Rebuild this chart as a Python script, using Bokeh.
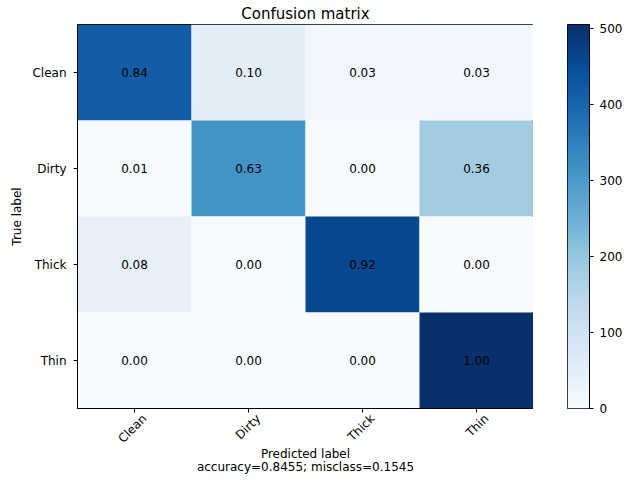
import math
import numpy as np
from bokeh.plotting import figure
from bokeh.layouts import row
from bokeh.models import (ColumnDataSource, LinearColorMapper, FixedTicker,
                          LinearAxis, Range1d)
from bokeh.palettes import Blues256
from bokeh.embed import file_html
from bokeh.resources import INLINE
from bokeh.core.properties import value

classes = ["Clean", "Dirty", "Thick", "Thin"]
counts = [
    [418, 50, 16, 16],
    [5, 313, 0, 182],
    [42, 0, 458, 0],
    [0, 0, 0, 505],
]
cbar_ticks = [0, 100, 200, 300, 400, 500]
cbar_high = 505
title_text = "Confusion matrix"
xlabel = "Predicted label"
ylabel = "True label"
stats_text = "accuracy=0.8455; misclass=0.1545"

FONT = "DejaVu Sans"
TOP = 24
BOTTOM = 70
FW, FH = 456, 384
ncls = len(classes)
centers = [k + 0.5 for k in range(ncls)]

xs, ys, cs, ts = [], [], [], []
for i in range(ncls):
    tot = sum(counts[i])
    for j in range(ncls):
        xs.append(centers[j])
        ys.append(centers[i])
        cs.append(counts[i][j])
        ts.append(f"{counts[i][j] / tot:.2f}")

src = ColumnDataSource(dict(x=xs, y=ys, c=cs, t=ts))
mapper = LinearColorMapper(palette=list(reversed(Blues256)), low=0, high=cbar_high)

p = figure(
    x_range=Range1d(0, ncls),
    y_range=Range1d(ncls, 0),
    frame_width=FW, frame_height=FH,
    min_border_left=77, min_border_right=0,
    min_border_top=TOP, min_border_bottom=BOTTOM,
    x_axis_location=None,
    output_backend="svg", toolbar_location=None,
    title=title_text,
)
p.title.align = "center"
p.title.text_font = FONT
p.title.text_font_size = "15px"
p.title.text_font_style = "normal"
p.title.text_color = "black"
p.title.standoff = 4

p.rect(x="x", y="y", width=1, height=1, source=src,
       fill_color={"field": "c", "transform": mapper}, line_color=None)
p.text(x="x", y="y", text="t", source=src, text_align="center",
       text_baseline="middle", text_font=value(FONT), text_font_size="12px",
       text_color="black")

p.grid.visible = False
p.outline_line_color = "black"
p.outline_line_width = 1


def style(ax):
    ax.axis_line_color = "black"
    ax.major_tick_line_color = "black"
    ax.major_tick_out = 4
    ax.major_tick_in = 0
    ax.minor_tick_line_color = None
    ax.major_label_text_font = FONT
    ax.major_label_text_font_size = "12px"
    ax.major_label_text_color = "black"
    ax.axis_label_text_font = FONT
    ax.axis_label_text_font_size = "12px"
    ax.axis_label_text_font_style = "normal"
    ax.axis_label_text_color = "black"


# y axis
yax = p.yaxis[0]
style(yax)
yax.ticker = FixedTicker(ticks=centers)
yax.major_label_overrides = {c: name for c, name in zip(centers, classes)}
yax.axis_label = ylabel
yax.major_label_standoff = 7
yax.axis_label_standoff = 5

# x axis: tick marks only
xa = LinearAxis(ticker=FixedTicker(ticks=centers))
style(xa)
xa.major_label_overrides = {c: " " for c in centers}
xa.major_label_text_font_size = "1px"
xa.major_label_standoff = 0
p.add_layout(xa, "below")

# x axis: rotated class names, centred under their ticks like matplotlib
shift = 10 * ncls / FW
lab_pos = [c + shift for c in centers]
xb = LinearAxis(ticker=FixedTicker(ticks=lab_pos))
style(xb)
xb.axis_line_color = None
xb.major_tick_out = 0
xb.major_tick_line_color = None
xb.major_label_overrides = {c: name for c, name in zip(lab_pos, classes)}
xb.major_label_orientation = math.pi / 4
xb.major_label_standoff = 0
xb.axis_label = xlabel + "\n" + stats_text
xb.axis_label_text_line_height = 0.9
xb.axis_label_standoff = -6
p.add_layout(xb, "below")

# colour bar as its own small figure
cbf = figure(
    x_range=Range1d(0, 1), y_range=Range1d(0, cbar_high),
    frame_width=22, frame_height=FH,
    min_border_left=34, min_border_right=0,
    min_border_top=TOP, min_border_bottom=BOTTOM,
    x_axis_location=None, y_axis_location="right",
    output_backend="svg", toolbar_location=None,
)
grad = np.linspace(0, cbar_high, 256).reshape(256, 1)
cbf.image(image=[grad], x=0, y=0, dw=1, dh=cbar_high, color_mapper=mapper)
cbf.grid.visible = False
cbf.outline_line_color = "black"
cax = cbf.yaxis[0]
cax.ticker = FixedTicker(ticks=cbar_ticks)
cax.axis_line_color = "black"
cax.major_tick_line_color = "black"
cax.major_tick_out = 4
cax.major_tick_in = 0
cax.minor_tick_line_color = None
cax.major_label_standoff = 6
cax.major_label_text_font = FONT
cax.major_label_text_font_size = "12px"
cax.major_label_text_color = "black"

layout = row(p, cbf)
open("out.html", "w").write(file_html(layout, INLINE))
